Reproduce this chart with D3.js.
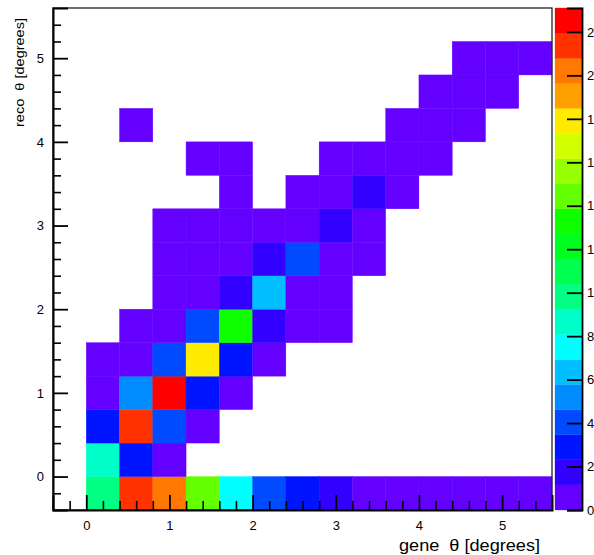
<!DOCTYPE html>
<html>
<head>
<meta charset="utf-8">
<script src="https://cdn.jsdelivr.net/npm/d3@7"></script>
<style>
  html, body { margin: 0; padding: 0; background: #fff; }
  svg { display: block; }
  text { font-family: "Liberation Sans", Arial, Helvetica, sans-serif; fill: #000; }
  .title { white-space: pre; }
</style>
</head>
<body>
<script>
// Bin edges (degrees), identical for generated and reconstructed theta
const thetaEdges = [-0.4, 0, 0.4, 0.8, 1.2, 1.6, 2.0, 2.4, 2.8, 3.2, 3.6, 4.0, 4.4, 4.8, 5.2, 5.6];

// Entries per bin: one row per reco-theta bin (bottom to top), one column per gene-theta bin
const row00 = [0, 10, 21, 20, 14, 8, 4, 3, 2, 1, 1, 1, 1, 1, 1];
const row01 = [0, 9, 3, 1, 0, 0, 0, 0, 0, 0, 0, 0, 0, 0, 0];
const row02 = [0, 3, 21, 4, 1, 0, 0, 0, 0, 0, 0, 0, 0, 0, 0];
const row03 = [0, 1, 5, 22, 3, 1, 0, 0, 0, 0, 0, 0, 0, 0, 0];
const row04 = [0, 1, 1, 4, 18, 3, 1, 0, 0, 0, 0, 0, 0, 0, 0];
const row05 = [0, 0, 1, 1, 4, 13, 2, 1, 1, 0, 0, 0, 0, 0, 0];
const row06 = [0, 0, 0, 1, 1, 2, 6, 1, 1, 0, 0, 0, 0, 0, 0];
const row07 = [0, 0, 0, 1, 1, 1, 2, 4, 1, 1, 0, 0, 0, 0, 0];
const row08 = [0, 0, 0, 1, 1, 1, 1, 1, 2, 1, 0, 0, 0, 0, 0];
const row09 = [0, 0, 0, 0, 0, 1, 0, 1, 1, 2, 1, 0, 0, 0, 0];
const row10 = [0, 0, 0, 0, 1, 1, 0, 0, 1, 1, 1, 1, 0, 0, 0];
const row11 = [0, 0, 1, 0, 0, 0, 0, 0, 0, 0, 1, 1, 1, 0, 0];
const row12 = [0, 0, 0, 0, 0, 0, 0, 0, 0, 0, 0, 1, 1, 1, 0];
const row13 = [0, 0, 0, 0, 0, 0, 0, 0, 0, 0, 0, 0, 1, 1, 1];
const row14 = [0, 0, 0, 0, 0, 0, 0, 0, 0, 0, 0, 0, 0, 0, 0];
const counts = [row00, row01, row02, row03, row04, row05, row06, row07,
                row08, row09, row10, row11, row12, row13, row14];

// Axis ticks and labels
const axisTicks = [0, 1, 2, 3, 4, 5];
const zRange = [0, 23.1];
const zTicks = [0, 2, 4, 6, 8, 10, 12, 14, 16, 18, 20, 22];

// 20-level rainbow palette (low to high)
const palette = [
  "#6400ff", "#3200ff", "#0014ff", "#004bff", "#008cff",
  "#00beff", "#00ffff", "#00ffc8", "#00ff82", "#00ff50",
  "#00ff20", "#10ff00", "#64ff00", "#96ff00", "#d2ff00",
  "#ffeb00", "#ffa000", "#ff7800", "#ff3200", "#ff0000"
];

const W = 594, H = 555;
const plot = { left: 53, right: 552, top: 8, bottom: 510 };
const bar = { left: 555, right: 582 };

const svg = d3.select("body").append("svg")
  .attr("width", W).attr("height", H);

svg.append("rect").attr("width", W).attr("height", H).attr("fill", "#fff");

const x = d3.scaleLinear().domain([thetaEdges[0], thetaEdges[thetaEdges.length - 1]])
  .range([plot.left, plot.right]);
const y = d3.scaleLinear().domain([thetaEdges[0], thetaEdges[thetaEdges.length - 1]])
  .range([plot.bottom, plot.top]);
const color = d3.scaleQuantize().domain(zRange).range(palette);
const z = d3.scaleLinear().domain(zRange).range([plot.bottom, plot.top]);

// Cells
const cells = [];
counts.forEach((row, r) => row.forEach((v, c) => {
  if (v > 0) cells.push({ x0: thetaEdges[c], x1: thetaEdges[c + 1], y0: thetaEdges[r], y1: thetaEdges[r + 1], v });
}));

svg.append("g").selectAll("rect").data(cells).join("rect")
  .attr("x", d => x(d.x0))
  .attr("y", d => y(d.y1))
  .attr("width", d => x(d.x1) - x(d.x0))
  .attr("height", d => y(d.y0) - y(d.y1))
  .attr("fill", d => color(d.v))
  .attr("stroke", d => color(d.v))
  .attr("stroke-width", 0.4);

// Frame
svg.append("rect")
  .attr("x", plot.left).attr("y", plot.top)
  .attr("width", plot.right - plot.left).attr("height", plot.bottom - plot.top)
  .attr("fill", "none").attr("stroke", "#222").attr("stroke-width", 1.3);

// Minor tick positions every 0.2 degrees
const minorTicks = d3.range(-0.2, 5.5, 0.2).map(v => Math.round(v * 10) / 10)
  .filter(v => !axisTicks.includes(v));

// Bottom axis: ticks pointing into the plot
const xAxis = d3.axisBottom(x).tickValues(axisTicks).tickSize(-15).tickPadding(22)
  .tickFormat(d3.format("d"));
const gx = svg.append("g").attr("transform", `translate(0,${plot.bottom})`).call(xAxis);
gx.select(".domain").attr("stroke", "#000").attr("stroke-width", 2);
gx.selectAll(".tick line").attr("stroke", "#000").attr("stroke-width", 1.8);
gx.selectAll(".tick text").attr("font-size", 13).attr("dy", "0.35em").attr("y", 15);
const xMinor = d3.axisBottom(x).tickValues(minorTicks).tickSize(-9).tickFormat("");
const gxm = svg.append("g").attr("transform", `translate(0,${plot.bottom})`).call(xMinor);
gxm.select(".domain").remove();
gxm.selectAll(".tick line").attr("stroke", "#000").attr("stroke-width", 1.6);

// Left axis: ticks pointing into the plot
const yAxis = d3.axisLeft(y).tickValues(axisTicks).tickSize(-15).tickPadding(22)
  .tickFormat(d3.format("d"));
const gy = svg.append("g").attr("transform", `translate(${plot.left},0)`).call(yAxis);
gy.select(".domain").attr("stroke", "#000").attr("stroke-width", 2);
gy.selectAll(".tick line").attr("stroke", "#000").attr("stroke-width", 1.8);
gy.selectAll(".tick text").attr("font-size", 13).attr("x", -9);
const yMinor = d3.axisLeft(y).tickValues(minorTicks).tickSize(-8).tickFormat("");
const gym = svg.append("g").attr("transform", `translate(${plot.left},0)`).call(yMinor);
gym.select(".domain").remove();
gym.selectAll(".tick line").attr("stroke", "#000").attr("stroke-width", 1.6);

// Axis titles
svg.append("text")
  .attr("class", "title")
  .attr("x", 540).attr("y", 551)
  .attr("text-anchor", "end")
  .attr("font-size", 16)
  .attr("textLength", 141).attr("lengthAdjust", "spacingAndGlyphs")
  .attr("fill", "#222")
  .text("gene  \u03b8 [degrees]");

svg.append("text")
  .attr("class", "title")
  .attr("transform", "translate(24,18) rotate(-90)")
  .attr("text-anchor", "end")
  .attr("font-size", 13)
  .attr("textLength", 109).attr("lengthAdjust", "spacingAndGlyphs")
  .attr("fill", "#222")
  .text("reco  \u03b8 [degrees]");

// Colour scale bar
const bands = palette.map((c, i) => {
  const step = (zRange[1] - zRange[0]) / palette.length;
  return { lo: zRange[0] + i * step, hi: zRange[0] + (i + 1) * step, c };
});
svg.append("g").selectAll("rect").data(bands).join("rect")
  .attr("x", bar.left)
  .attr("y", d => z(d.hi))
  .attr("width", bar.right - bar.left)
  .attr("height", d => z(d.lo) - z(d.hi))
  .attr("fill", d => d.c)
  .attr("stroke", d => d.c)
  .attr("stroke-width", 0.3);

const zAxis = d3.axisRight(z).tickValues(zTicks).tickSize(-15).tickPadding(20)
  .tickFormat(d3.format("d"));
const gz = svg.append("g").attr("transform", `translate(${bar.right},0)`).call(zAxis);
gz.select(".domain").attr("stroke", "#000").attr("stroke-width", 1.8);
gz.selectAll(".tick line").attr("stroke", "#000").attr("stroke-width", 1.8);
gz.selectAll(".tick text").attr("font-size", 13).attr("x", 5);
</script>
</body>
</html>
